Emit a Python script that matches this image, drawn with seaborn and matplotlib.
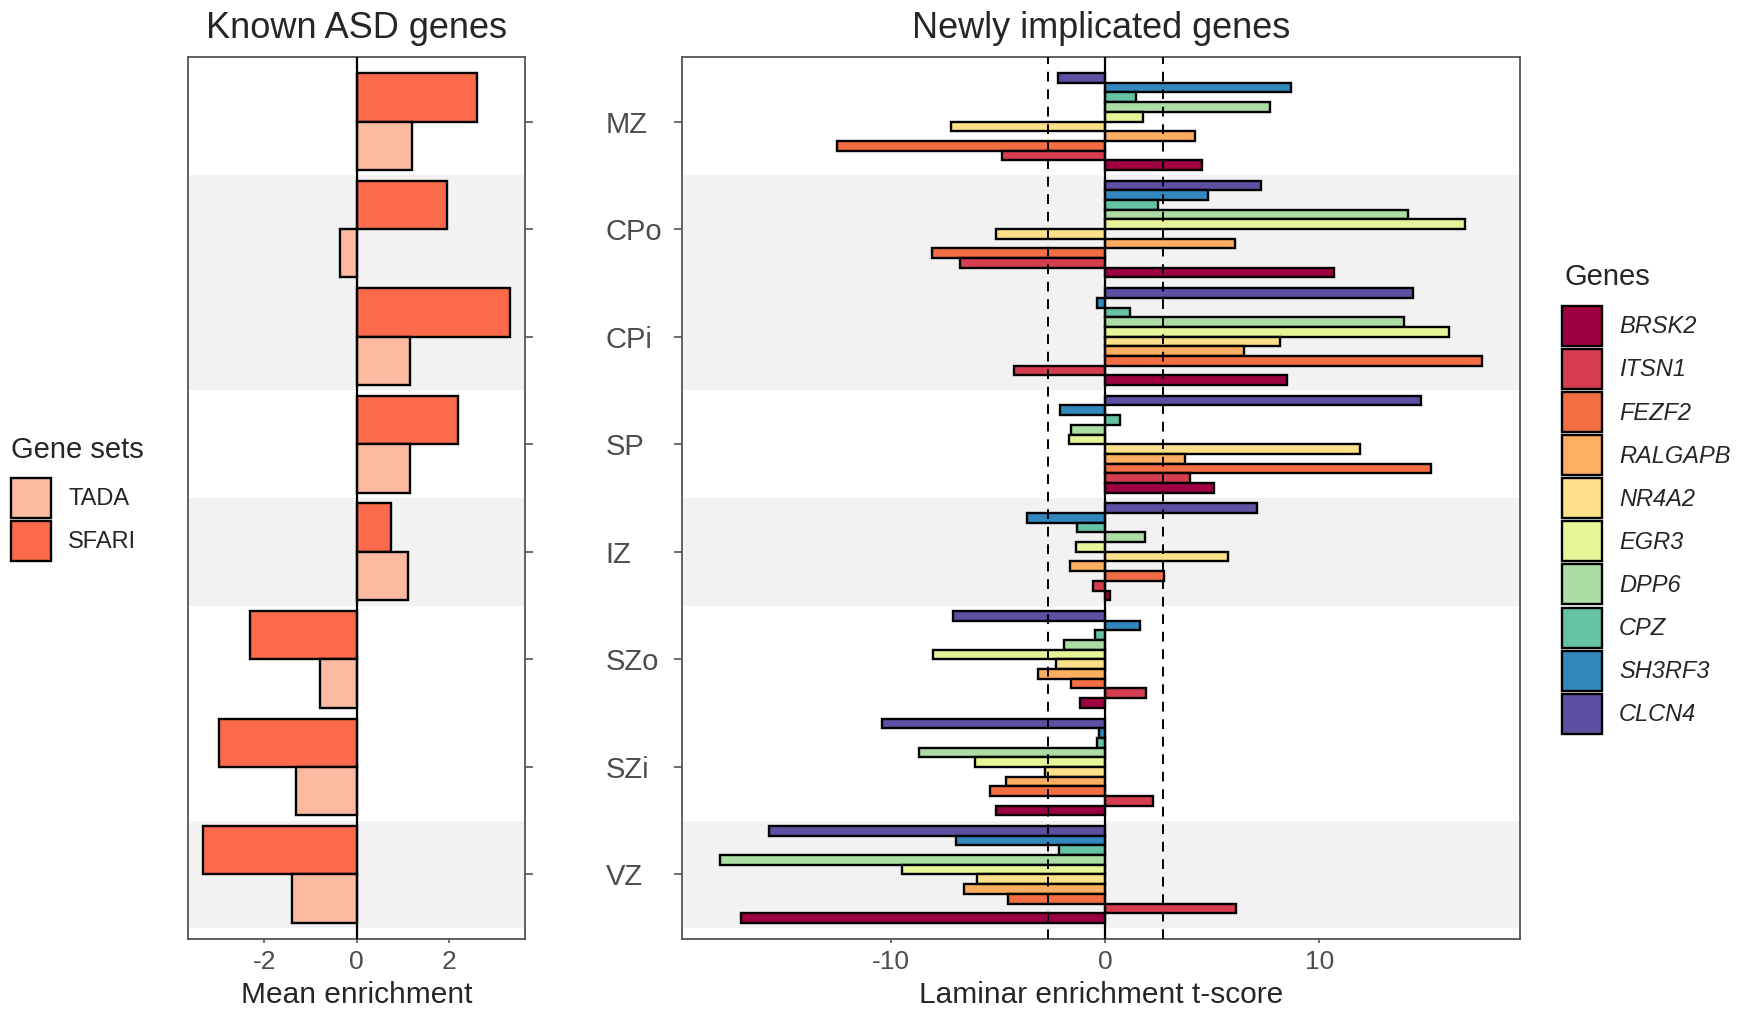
import matplotlib
matplotlib.use("Agg")
import matplotlib.pyplot as plt
from matplotlib.patches import Patch
import pandas as pd
import seaborn as sns

# ---------------- data ----------------
layers = ["MZ", "CPo", "CPi", "SP", "IZ", "SZo", "SZi", "VZ"]
shaded_layers = ["CPo", "CPi", "IZ", "VZ"]

gene_sets = ["TADA", "SFARI"]
tada_enrichment = [1.20, -0.37, 1.15, 1.15, 1.10, -0.79, -1.31, -1.40]
sfari_enrichment = [2.60, 1.96, 3.31, 2.19, 0.74, -2.32, -2.97, -3.32]
gene_set_colors = ["#FCBBA1", "#FB6A4A"]

genes = ["BRSK2", "ITSN1", "FEZF2", "RALGAPB", "NR4A2",
         "EGR3", "DPP6", "CPZ", "SH3RF3", "CLCN4"]
gene_colors = ["#9E0142", "#D53E4F", "#F46D43", "#FDAE61", "#FEE08B",
               "#E6F598", "#ABDDA4", "#66C2A5", "#3288BD", "#5E4FA2"]

# laminar t-scores, one value per layer (MZ ... VZ)
brsk2 = [4.54, 10.67, 8.49, 5.10, 0.23, -1.18, -5.13, -17.03]
itsn1 = [-4.82, -6.79, -4.28, 3.97, -0.56, 1.92, 2.23, 6.13]
fezf2 = [-12.56, -8.10, 17.60, 15.23, 2.74, -1.59, -5.41, -4.56]
ralgapb = [4.20, 6.05, 6.46, 3.72, -1.64, -3.13, -4.62, -6.59]
nr4a2 = [-7.23, -5.10, 8.15, 11.92, 5.74, -2.31, -2.82, -6.00]
egr3 = [1.74, 16.82, 16.05, -1.69, -1.38, -8.05, -6.08, -9.51]
dpp6 = [7.69, 14.15, 13.95, -1.59, 1.85, -1.95, -8.69, -18.00]
cpz = [1.44, 2.46, 1.15, 0.69, -1.31, -0.46, -0.41, -2.18]
sh3rf3 = [8.67, 4.79, -0.41, -2.10, -3.64, 1.64, -0.31, -6.97]
clcn4 = [-2.20, 7.28, 14.38, 14.77, 7.10, -7.13, -10.44, -15.72]

t_threshold = 2.7

# ---------------- tables ----------------
known = pd.DataFrame({
    "layer": layers * 2,
    "set": ["TADA"] * len(layers) + ["SFARI"] * len(layers),
    "value": tada_enrichment + sfari_enrichment,
})
gene_values = dict(zip(genes, [brsk2, itsn1, fezf2, ralgapb, nr4a2,
                               egr3, dpp6, cpz, sh3rf3, clcn4]))
newly = pd.DataFrame([
    {"layer": lay, "gene": g, "value": v}
    for g in genes for lay, v in zip(layers, gene_values[g])
])

# ---------------- style ----------------
sns.set_style("white")
plt.rcParams["font.family"] = ["Liberation Sans", "DejaVu Sans"]
plt.rcParams["axes.unicode_minus"] = False

W, H = 1752, 1013
fig = plt.figure(figsize=(W / 100, H / 100), dpi=100)


def frac_box(x0, y0, x1, y1):
    return [x0 / W, 1 - y1 / H, (x1 - x0) / W, (y1 - y0) / H]


ax1 = fig.add_axes(frac_box(188, 57, 525, 939))
ax2 = fig.add_axes(frac_box(682, 57, 1520, 939))

grey_text = "#4D4D4D"
frame_grey = "#555555"
edge_lw = 1.7


def decorate(ax, values, ticks):
    for lay in shaded_layers:
        i = layers.index(lay)
        ax.axhspan(i - 0.5, i + 0.5, color="#F2F2F2", lw=0, zorder=0)
    ax.axvline(0, color="black", lw=1.6, zorder=3)
    lo, hi = min(values), max(values)
    pad = 0.05 * (hi - lo)
    ax.set_xlim(lo - pad, hi + pad)
    ax.set_ylim(len(layers) - 0.4, -0.6)
    ax.set_xticks(ticks)
    ax.set_xticklabels([str(t) for t in ticks])
    ax.tick_params(axis="x", bottom=True, length=3, width=1.2,
                   color=frame_grey, pad=5, labelsize=19,
                   labelcolor=grey_text)
    for sp in ax.spines.values():
        sp.set_visible(True)
        sp.set_color(frame_grey)
        sp.set_linewidth(1.3)
    ax.set_ylabel("")


# ---------------- left panel: known ASD genes ----------------
sns.barplot(data=known, x="value", y="layer", hue="set", orient="h",
            order=layers, hue_order=["SFARI", "TADA"],
            palette=dict(zip(gene_sets, gene_set_colors)), saturation=1,
            width=0.9, edgecolor="black", linewidth=edge_lw,
            errorbar=None, legend=False, ax=ax1, zorder=2)
decorate(ax1, known["value"].tolist(), [-2, 0, 2])
ax1.yaxis.tick_right()
ax1.tick_params(axis="y", right=True, left=False, length=6, width=1.2,
                color=frame_grey, pad=52, labelsize=21, labelcolor=grey_text)
ax1.set_xlabel("Mean enrichment", fontsize=21.5, labelpad=5)
ax1.set_title("Known ASD genes", fontsize=26, pad=14)

# ---------------- right panel: newly implicated genes ----------------
sns.barplot(data=newly, x="value", y="layer", hue="gene", orient="h",
            order=layers, hue_order=genes[::-1],
            palette=dict(zip(genes, gene_colors)), saturation=1,
            width=0.9, edgecolor="black", linewidth=edge_lw,
            errorbar=None, legend=False, ax=ax2, zorder=2)
decorate(ax2, newly["value"].tolist(), [-10, 0, 10])
for s in (-t_threshold, t_threshold):
    ax2.axvline(s, color="black", lw=1.4, ls=(0, (5, 4)), zorder=4)
ax2.tick_params(axis="y", left=True, right=False, labelleft=False,
                length=6, width=1.2, color=frame_grey)
ax2.set_xlabel("Laminar enrichment t-score", fontsize=21.5, labelpad=5)
ax2.set_title("Newly implicated genes", fontsize=26, pad=14)

# ---------------- legends ----------------
# square keys about 40 px wide, stacked with a small gap
legend_kw = dict(loc="upper left", frameon=False, fontsize=17,
                 handlelength=1.7, handleheight=2.23, labelspacing=0.13,
                 handletextpad=0.72, borderpad=0, borderaxespad=0)

fig.text(11 / W, 1 - 458 / H, "Gene sets", fontsize=21, va="baseline",
         ha="left")
set_handles = [Patch(facecolor=c, edgecolor="black", lw=edge_lw)
               for c in gene_set_colors]
fig.legend(set_handles, gene_sets, bbox_to_anchor=(11 / W, 1 - 478 / H),
           **legend_kw)

fig.text(1564 / W, 1 - 285 / H, "Genes", fontsize=21, va="baseline",
         ha="left")
gene_handles = [Patch(facecolor=c, edgecolor="black", lw=edge_lw)
                for c in gene_colors]
leg = fig.legend(gene_handles, genes, bbox_to_anchor=(1562 / W, 1 - 306 / H),
                 **legend_kw)
for t in leg.get_texts():
    t.set_fontstyle("italic")

fig.savefig("out.png", dpi=100)
